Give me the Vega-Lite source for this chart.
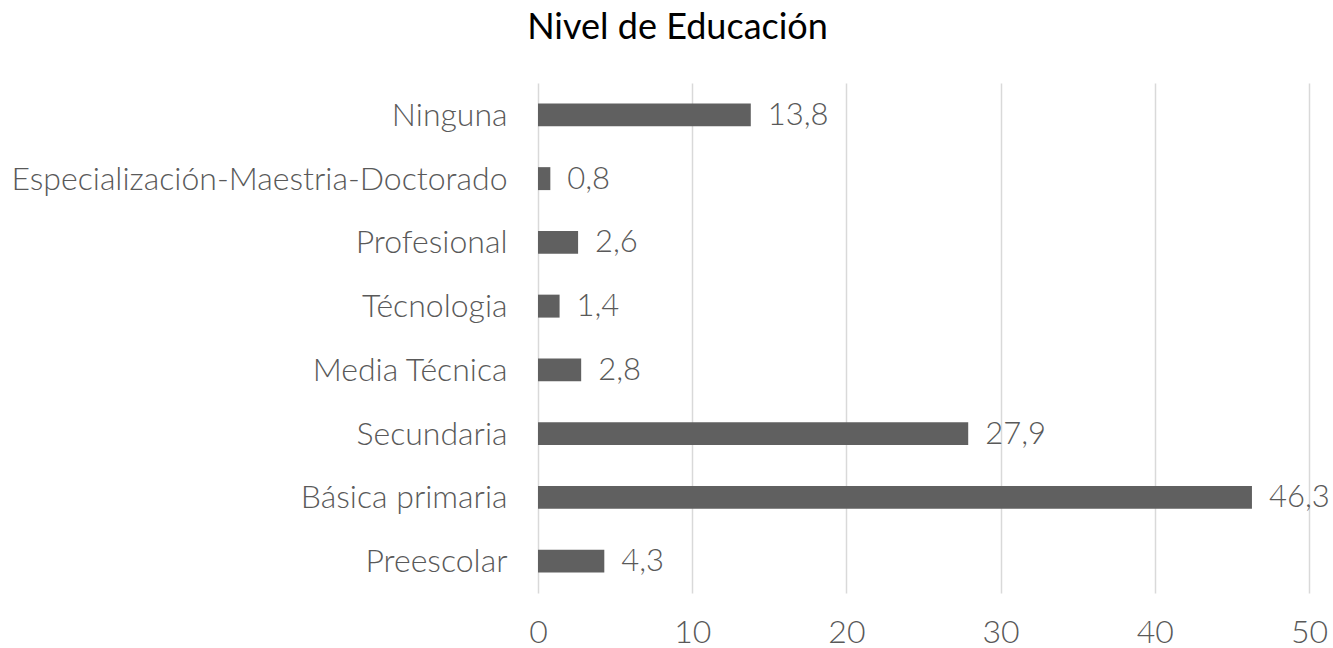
{
  "$schema": "https://vega.github.io/schema/vega-lite/v6.json",
  "width": 771,
  "height": 510,
  "autosize": {"type": "none"},
  "padding": {"left": 538, "top": 83, "right": 24, "bottom": 55},
  "background": "white",
  "title": {
    "text": "Nivel de Educación",
    "font": "Lato",
    "fontSize": 36,
    "fontWeight": 400,
    "color": "#000000",
    "anchor": "middle",
    "dx": -246,
    "offset": 8,
    "baseline": "alphabetic"
  },
  "data": {
    "values": [
      {"nivel": "Ninguna", "pct": 13.8},
      {"nivel": "Especialización-Maestria-Doctorado", "pct": 0.8},
      {"nivel": "Profesional", "pct": 2.6},
      {"nivel": "Técnologia", "pct": 1.4},
      {"nivel": "Media Técnica", "pct": 2.8},
      {"nivel": "Secundaria", "pct": 27.9},
      {"nivel": "Básica primaria", "pct": 46.3},
      {"nivel": "Preescolar", "pct": 4.3}
    ]
  },
  "encoding": {
    "y": {
      "field": "nivel",
      "type": "nominal",
      "sort": null,
      "scale": {"paddingInner": 0.64, "paddingOuter": 0.32},
      "axis": {
        "title": null,
        "domain": false,
        "ticks": false,
        "labelFont": "Lato Light, Lato",
        "labelFontWeight": 300,
        "labelFontSize": 32,
        "labelColor": "#595959",
        "labelPadding": 31,
        "labelLimit": 600,
        "labelOffset": 1
      }
    },
    "x": {
      "field": "pct",
      "type": "quantitative",
      "scale": {"domain": [0, 50], "nice": false},
      "axis": {
        "title": null,
        "domain": false,
        "ticks": false,
        "values": [0, 10, 20, 30, 40, 50],
        "grid": true,
        "gridColor": "#d9d9d9",
        "gridWidth": 1.5,
        "labelFont": "Lato Light, Lato",
        "labelFontWeight": 300,
        "labelFontSize": 32,
        "labelColor": "#595959",
        "labelPadding": 24,
        "labelFlush": false
      }
    }
  },
  "layer": [
    {"mark": {"type": "bar", "color": "#606060"}},
    {
      "mark": {
        "type": "text",
        "align": "left",
        "baseline": "middle",
        "dx": 17,
        "dy": 1,
        "font": "Lato Light, Lato",
        "fontWeight": 300,
        "fontSize": 31,
        "color": "#595959"
      },
      "encoding": {"text": {"field": "pct", "type": "quantitative", "format": ".1f"}}
    }
  ],
  "config": {
    "view": {"stroke": null},
    "locale": {
      "number": {"decimal": ",", "thousands": ".", "grouping": [3], "currency": ["", " €"]}
    }
  }
}
